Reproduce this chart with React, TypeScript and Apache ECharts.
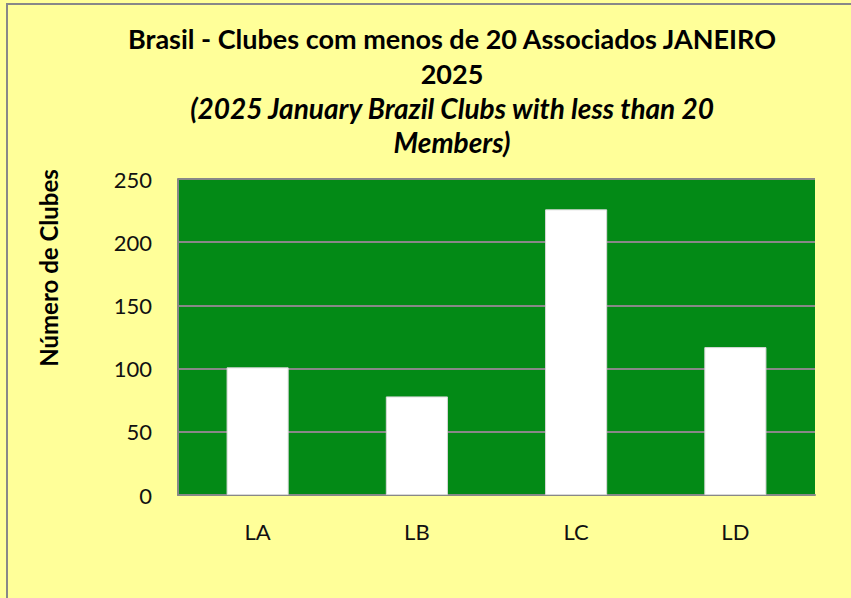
import React, { useEffect, useRef } from "react";
import * as echarts from "echarts";

const categories = ["LA", "LB", "LC", "LD"];
const values = [101, 78, 226, 117];
const yTicks = { min: 0, max: 250, interval: 50 };
const titleLines = [
  "Brasil - Clubes com menos de 20 Associados JANEIRO",
  "2025",
];
const subtitleLines = [
  "(2025 January Brazil Clubs with less than 20",
  "Members)",
];
const yAxisName = "Número de Clubes";

const FONT = "Lato, 'Noto Sans', sans-serif";

export default function App() {
  const ref = useRef<HTMLDivElement>(null);
  useEffect(() => {
    if (!ref.current) return;
    const chart = echarts.init(ref.current, null, { renderer: "svg" });
    const cx = 452;
    const lineYs = [38, 73, 108, 142];
    const allLines = [...titleLines, ...subtitleLines];
    chart.setOption({
      animation: false,
      backgroundColor: "#FFFF99",
      textStyle: { fontFamily: FONT },
      graphic: [
        {
          type: "rect",
          shape: { x: 7, y: 4, width: 900, height: 700 },
          style: { fill: "transparent", stroke: "#888888", lineWidth: 2 },
          silent: true,
        },
        ...allLines.map((t, i) => ({
          type: "text",
          x: cx,
          y: lineYs[i],
          style: {
            text: t,
            fill: "#000000",
            font: `${i >= 2 ? "italic bold 28px" : "bold 27px"} ${FONT}`,
            textAlign: "center",
            textVerticalAlign: "middle",
          },
        })),
        {
          type: "text",
          x: 48,
          y: 268,
          rotation: Math.PI / 2,
          style: {
            text: yAxisName,
            fill: "#000000",
            font: `bold 24px ${FONT}`,
            textAlign: "center",
            textVerticalAlign: "middle",
          },
        },
      ],
      grid: {
        left: 178,
        right: 36,
        top: 179,
        bottom: 103,
        containLabel: false,
        show: true,
        backgroundColor: "#038A16",
        borderWidth: 0,
      },
      xAxis: {
        type: "category",
        data: categories,
        axisLine: { lineStyle: { color: "#888888", width: 2 } },
        axisTick: { show: false },
        axisLabel: { color: "#111111", fontSize: 22, margin: 25, fontFamily: FONT },
      },
      yAxis: {
        type: "value",
        min: yTicks.min,
        max: yTicks.max,
        interval: yTicks.interval,
        axisLine: { show: true, lineStyle: { color: "#888888", width: 2 } },
        axisTick: { show: false },
        axisLabel: { color: "#111111", fontSize: 22, margin: 26, fontFamily: FONT },
        splitLine: { show: true, lineStyle: { color: "#888888", width: 2 } },
      },
      series: [
        {
          type: "bar",
          data: values,
          barWidth: "39%",
          itemStyle: { color: "#FFFFFF", borderColor: "#D9D9D9", borderWidth: 1 },
          z: 3,
        },
      ],
    });
    return () => chart.dispose();
  }, []);
  return (
    <div
      ref={ref}
      style={{ position: "fixed", left: 0, top: 0, width: 851, height: 598 }}
    />
  );
}
